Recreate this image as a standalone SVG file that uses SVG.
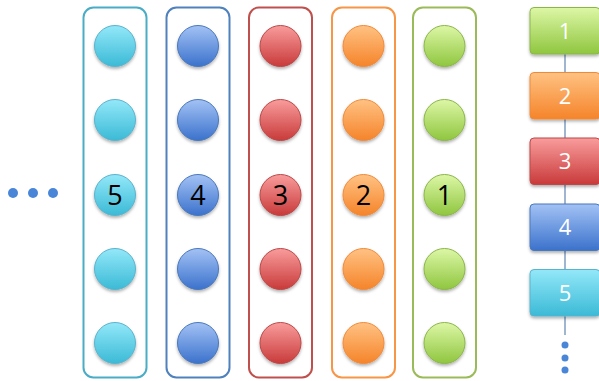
<svg xmlns="http://www.w3.org/2000/svg" width="599" height="381" viewBox="0 0 599 381">
<defs>
<linearGradient id="gc" x1="0" y1="0" x2="0" y2="1"><stop offset="0" stop-color="#93e8f9"/><stop offset="1" stop-color="#3bbad6"/></linearGradient>
<linearGradient id="gb" x1="0" y1="0" x2="0" y2="1"><stop offset="0" stop-color="#a3c2f5"/><stop offset="1" stop-color="#3b72cc"/></linearGradient>
<linearGradient id="gr" x1="0" y1="0" x2="0" y2="1"><stop offset="0" stop-color="#f99c9c"/><stop offset="1" stop-color="#c93a3a"/></linearGradient>
<linearGradient id="go" x1="0" y1="0" x2="0" y2="1"><stop offset="0" stop-color="#ffc283"/><stop offset="1" stop-color="#f5842a"/></linearGradient>
<linearGradient id="gg" x1="0" y1="0" x2="0" y2="1"><stop offset="0" stop-color="#ddf7a6"/><stop offset="1" stop-color="#8fc63f"/></linearGradient>
<filter id="sh" x="-30%" y="-30%" width="160%" height="170%"><feDropShadow dx="0" dy="2" stdDeviation="1.5" flood-color="#000" flood-opacity="0.3"/></filter>
</defs>
<style>
.box{fill:none;stroke-width:2}
.c{filter:url(#sh);stroke-width:1}
.n{font-family:"Open Sans","Liberation Sans",sans-serif;text-anchor:middle;dominant-baseline:central}
.bk{fill:#000;font-size:27px}
.wh{fill:#fff;font-size:22px}
.dot{fill:#4a86d8}
.ln{stroke:#7f9cc1;stroke-width:1.5}
</style>
<g id="ellipsis-left">
<circle class="dot" cx="13" cy="193" r="5"/><circle class="dot" cx="33" cy="193" r="5"/><circle class="dot" cx="53" cy="193" r="5"/>
</g>
<g id="col5">
<rect class="box" x="83.5" y="7.5" width="63" height="370" rx="10" stroke="#4bacc6"/>
<g fill="url(#gc)" stroke="#5bb3cc" class="c"><circle cx="115" cy="46" r="20.5"/><circle cx="115" cy="120" r="20.5"/><circle cx="115" cy="195" r="20.5"/><circle cx="115" cy="269" r="20.5"/><circle cx="115" cy="343" r="20.5"/></g>
<text class="n bk" x="115" y="194">5</text>
</g>
<g id="col4">
<rect class="box" x="166.5" y="7.5" width="63" height="370" rx="10" stroke="#4f81bd"/>
<g fill="url(#gb)" stroke="#4a78bb" class="c"><circle cx="198" cy="46" r="20.5"/><circle cx="198" cy="120" r="20.5"/><circle cx="198" cy="195" r="20.5"/><circle cx="198" cy="269" r="20.5"/><circle cx="198" cy="343" r="20.5"/></g>
<text class="n bk" x="198" y="194">4</text>
</g>
<g id="col3">
<rect class="box" x="249" y="7.5" width="63" height="370" rx="10" stroke="#c0504d"/>
<g fill="url(#gr)" stroke="#bb4848" class="c"><circle cx="280.5" cy="46" r="20.5"/><circle cx="280.5" cy="120" r="20.5"/><circle cx="280.5" cy="195" r="20.5"/><circle cx="280.5" cy="269" r="20.5"/><circle cx="280.5" cy="343" r="20.5"/></g>
<text class="n bk" x="280.5" y="194">3</text>
</g>
<g id="col2">
<rect class="box" x="332" y="7.5" width="63" height="370" rx="10" stroke="#f79646"/>
<g fill="url(#go)" stroke="#f08a3a" class="c"><circle cx="363.5" cy="46" r="20.5"/><circle cx="363.5" cy="120" r="20.5"/><circle cx="363.5" cy="195" r="20.5"/><circle cx="363.5" cy="269" r="20.5"/><circle cx="363.5" cy="343" r="20.5"/></g>
<text class="n bk" x="363.5" y="194">2</text>
</g>
<g id="col1">
<rect class="box" x="413" y="7.5" width="63" height="370" rx="10" stroke="#9bbb59"/>
<g fill="url(#gg)" stroke="#8cb54a" class="c"><circle cx="444.5" cy="46" r="20.5"/><circle cx="444.5" cy="120" r="20.5"/><circle cx="444.5" cy="195" r="20.5"/><circle cx="444.5" cy="269" r="20.5"/><circle cx="444.5" cy="343" r="20.5"/></g>
<text class="n bk" x="444.5" y="194">1</text>
</g>
<g id="connectors">
<line class="ln" x1="565" y1="54" x2="565" y2="73"/>
<line class="ln" x1="565" y1="119" x2="565" y2="138"/>
<line class="ln" x1="565" y1="185" x2="565" y2="204"/>
<line class="ln" x1="565" y1="250" x2="565" y2="269"/>
<line class="ln" x1="565" y1="316" x2="565" y2="335"/>
</g>
<g id="stack1"><rect x="530" y="7.5" width="70" height="46.5" rx="4" fill="url(#gg)" stroke="#8cb54a" filter="url(#sh)"/><text class="n wh" x="565" y="30">1</text></g>
<g id="stack2"><rect x="530" y="72.5" width="70" height="46.5" rx="4" fill="url(#go)" stroke="#f08a3a" filter="url(#sh)"/><text class="n wh" x="565" y="95">2</text></g>
<g id="stack3"><rect x="530" y="138" width="70" height="46.5" rx="4" fill="url(#gr)" stroke="#bb4848" filter="url(#sh)"/><text class="n wh" x="565" y="160">3</text></g>
<g id="stack4"><rect x="530" y="204" width="70" height="46.5" rx="4" fill="url(#gb)" stroke="#4a78bb" filter="url(#sh)"/><text class="n wh" x="565" y="226">4</text></g>
<g id="stack5"><rect x="530" y="269.5" width="70" height="46.5" rx="4" fill="url(#gc)" stroke="#5bb3cc" filter="url(#sh)"/><text class="n wh" x="565" y="292">5</text></g>
<g id="ellipsis-right">
<circle class="dot" cx="565" cy="345" r="3.5"/><circle class="dot" cx="565" cy="358" r="3.5"/><circle class="dot" cx="565" cy="370" r="3.5"/>
</g>
</svg>
